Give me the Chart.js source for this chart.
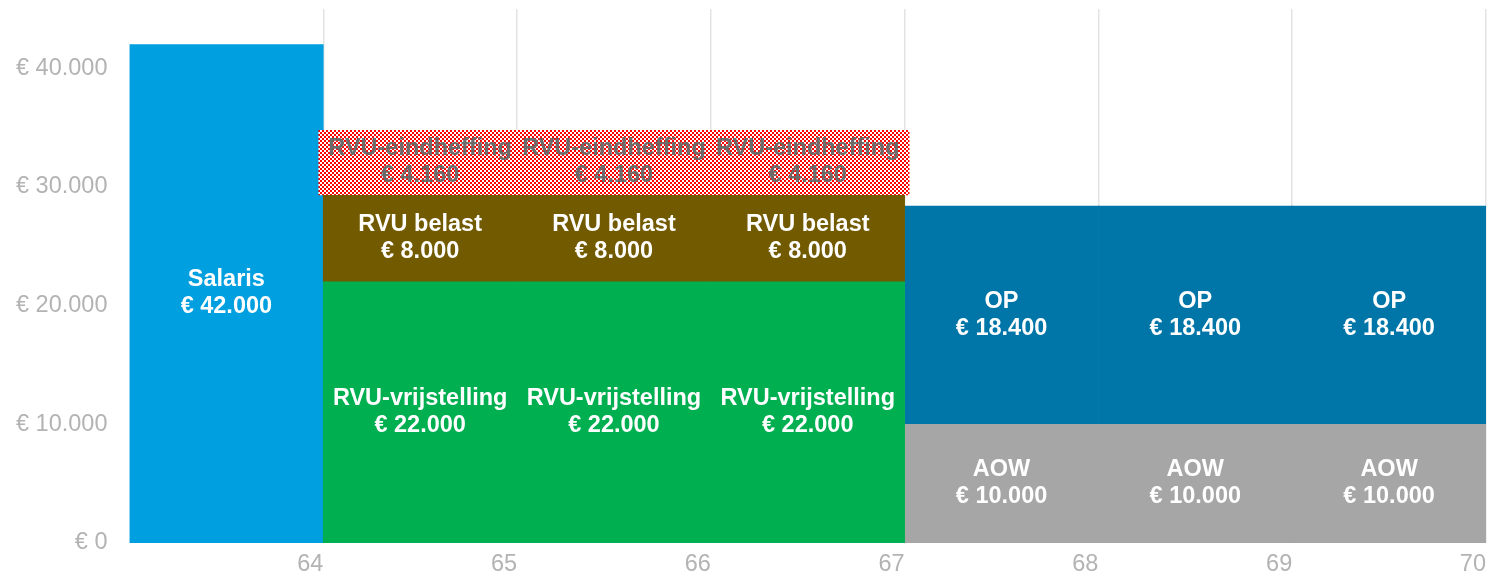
<!DOCTYPE html>
<html>
<head>
<meta charset="utf-8">
<script src="https://cdn.jsdelivr.net/npm/chart.js@4"></script>
<style>
  html, body { margin: 0; padding: 0; background: #fff; }
  #wrap { width: 1488px; height: 575px; }
</style>
</head>
<body>
<div id="wrap"><canvas id="grafiek"></canvas></div>
<script>
// leeftijd aan het begin van elk jaar
const ages = [63, 64, 65, 66, 67, 68, 69];

// hoogtes zoals in het plaatje
const salaris = [42000, null, null, null, null, null, null];
const rvuVrijstelling = [null, 22000, 22000, 22000, null, null, null];
const rvuBelast = [null, 7300, 7300, 7300, null, null, null];
const rvuEindheffing = [null, 5500, 5500, 5500, null, null, null];
const aow = [null, null, null, null, 10000, 10000, 10000];
const op = [null, null, null, null, 18400, 18400, 18400];

// teksten in de balken
const names = ["Salaris", "RVU-vrijstelling", "RVU belast", "RVU-eindheffing", "AOW", "OP"];
const amounts = [42000, 22000, 8000, 4160, 10000, 18400];

const yTicks = [0, 10000, 20000, 30000, 40000];

const euro = (v) => "€ " + String(v).replace(/\B(?=(\d{3})+(?!\d))/g, ".");

function hatch() {
  const c = document.createElement("canvas");
  c.width = 4;
  c.height = 4;
  const g = c.getContext("2d");
  g.fillStyle = "#ffffff";
  g.fillRect(0, 0, 4, 4);
  g.fillStyle = "#ff0000";
  g.fillRect(0, 0, 2, 2);
  g.fillRect(2, 2, 2, 2);
  return g.createPattern(c, "repeat");
}

const points = (values) =>
  ages.map((a, i) => (values[i] == null ? null : { x: a + 0.5, y: values[i] })).filter(Boolean);

const FONT = "'Liberation Sans', Arial, sans-serif";

const data = {
  datasets: [
    { label: names[0], data: points(salaris), backgroundColor: "#009fdf", order: 1, textColor: "#ffffff" },
    { label: names[1], data: points(rvuVrijstelling), backgroundColor: "#00af50", textColor: "#ffffff" },
    { label: names[2], data: points(rvuBelast), backgroundColor: "#725a00", textColor: "#ffffff" },
    { label: names[3], data: points(rvuEindheffing), backgroundColor: hatch(), barPercentage: 1.05, textColor: "#6b6b6b" },
    { label: names[4], data: points(aow), backgroundColor: "#a6a6a6", textColor: "#ffffff" },
    { label: names[5], data: points(op), backgroundColor: "#0075a7", textColor: "#ffffff" },
  ],
};

const barLabels = {
  id: "barLabels",
  afterDatasetsDraw(chart) {
    const ctx = chart.ctx;
    ctx.save();
    ctx.font = "bold 23.5px " + FONT;
    ctx.textAlign = "center";
    ctx.textBaseline = "middle";
    chart.data.datasets.forEach((ds, d) => {
      const meta = chart.getDatasetMeta(d);
      ctx.fillStyle = ds.textColor;
      meta.data.forEach((bar) => {
        const { x, y, base } = bar.getProps(["x", "y", "base"], true);
        const mid = (y + base) / 2;
        ctx.fillText(names[d], x, mid - 14);
        ctx.fillText(euro(amounts[d]), x, mid + 13);
      });
    });
    ctx.restore();
  },
};

const options = {
  responsive: true,
  maintainAspectRatio: false,
  animation: false,
  layout: { padding: { left: -6, right: 2, top: 9, bottom: 0 } },
  datasets: {
    bar: { categoryPercentage: 1, barPercentage: 1, borderWidth: 0 },
  },
  plugins: {
    legend: { display: false },
    tooltip: { enabled: false },
  },
  scales: {
    x: {
      type: "linear",
      min: 63,
      max: 70,
      offset: false,
      stacked: true,
      grid: { offset: false, color: "#e3e3e3", lineWidth: 1.5, drawTicks: false },
      border: { display: false },
      afterFit: (axis) => {
        axis.height = 32;
        axis.paddingLeft = 0;
        axis.paddingRight = 0;
      },
      ticks: {
        stepSize: 1,
        align: "end",
        padding: 7,
        color: "#b3b3b3",
        font: { family: FONT, size: 23.5 },
        callback: (v) => (v === 63 ? null : v),
      },
    },
    y: {
      min: 0,
      max: 45000,
      stacked: true,
      grid: { display: false, drawTicks: false },
      border: { display: false },
      afterBuildTicks: (axis) => {
        axis.ticks = yTicks.map((v) => ({ value: v }));
      },
      afterFit: (axis) => {
        axis.paddingTop = 0;
        axis.paddingBottom = 0;
      },
      ticks: {
        padding: 22,
        color: "#b3b3b3",
        font: { family: FONT, size: 23.5 },
        callback: (v) => euro(v),
      },
    },
  },
};

new Chart(document.getElementById("grafiek"), {
  type: "bar",
  data: data,
  options: options,
  plugins: [barLabels],
});
</script>
</body>
</html>
